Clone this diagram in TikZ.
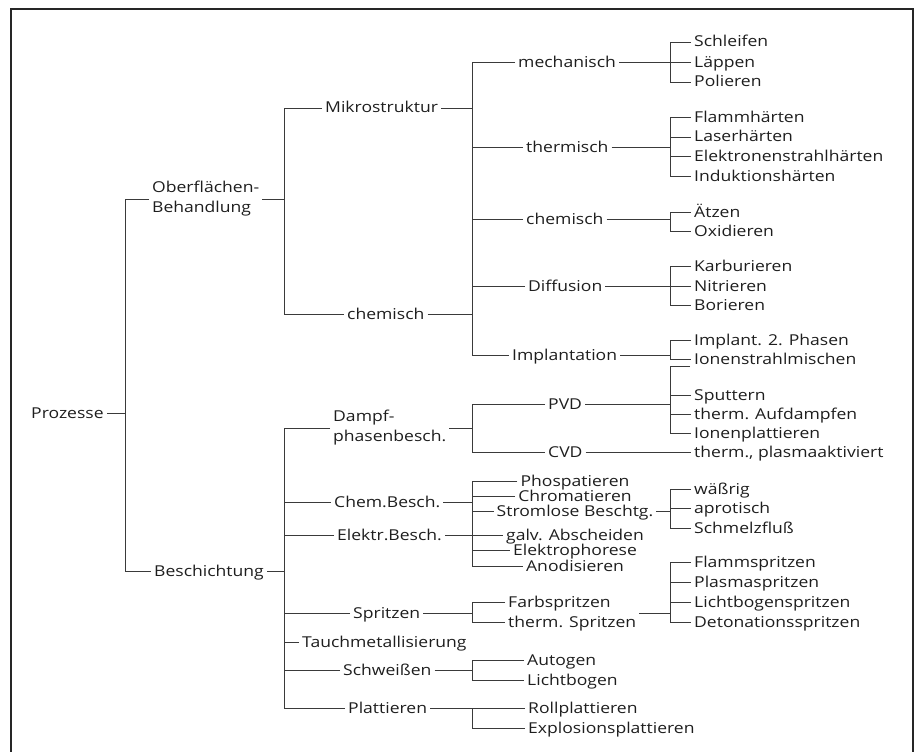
\documentclass[tikz,border=0pt]{standalone}
\usepackage{fontspec}
\setmainfont{Open Sans}[FakeStretch=1.17]
\newcommand\fsz{\fontsize{15}{20}\selectfont}
\definecolor{txtc}{HTML}{1E1E1E}
\definecolor{linec}{HTML}{3A3A3A}
\definecolor{framec}{HTML}{262626}
\tikzset{
  lbl/.style={anchor=west, inner xsep=3pt, inner ysep=0pt, text height=13pt, text depth=3pt, font=\fsz, text=txtc},
  lbltwo/.style={anchor=west, inner xsep=3pt, inner ysep=0pt, align=left, font=\fsz, text=txtc},
  ctr/.style={lbl, anchor=center},
  conn/.style={draw=linec, line width=0.8pt},
  framebox/.style={draw=framec, line width=1.4pt}
}
\begin{document}
\begin{tikzpicture}[x=1pt,y=-1pt]
\useasboundingbox (0,0) rectangle (919,752);
\draw[framebox] (11,752) -- (11,9) -- (913,9) -- (913,752);
% bracket columns
\coordinate (xa) at (125,0);
\coordinate (xb) at (284,0);
\coordinate (xc) at (472,0);
\coordinate (xd) at (670,0);
% level 0/1
\node[lbl] (pr) at (28,413) {Prozesse};
\node[lbltwo] (ob) at (149,199) {Oberflächen-\\Behandlung};
\node[lbl] (be) at (151,571) {Beschichtung};
% Oberflaechen subtree
\node[lbl] (mi) at (322,108) {Mikrostruktur};
\node[lbl] (chb) at (344,314) {chemisch};
\node[lbl] (me) at (515,62) {mechanisch};
\node[lbl] (th) at (523,147) {thermisch};
\node[lbl] (cm) at (523,219) {chemisch};
\node[lbl] (di) at (525,286) {Diffusion};
\node[lbl] (im) at (509,355) {Implantation};
% leaves
\node[lbl] (s1) at (691,42) {Schleifen};
\node[lbl] (s2) at (691,62) {Läppen};
\node[lbl] (s3) at (691,82) {Polieren};
\node[lbl] (t1) at (691,117) {Flammhärten};
\node[lbl] (t2) at (691,137) {Laserhärten};
\node[lbl] (t3) at (691,156) {Elektronenstrahlhärten};
\node[lbl] (t4) at (691,176) {Induktionshärten};
\node[lbl] (c1) at (691,212) {Ätzen};
\node[lbl] (c2) at (691,231) {Oxidieren};
\node[lbl] (d1) at (691,266) {Karburieren};
\node[lbl] (d2) at (691,286) {Nitrieren};
\node[lbl] (d3) at (691,305) {Borieren};
\node[lbl] (i1) at (691,340) {Implant. 2. Phasen};
\node[lbl] (i2) at (691,359) {Ionenstrahlmischen};
\coordinate (pvtop) at (690,366);
\node[lbl] (p1) at (691,395) {Sputtern};
\node[lbl] (p2) at (691,414) {therm. Aufdampfen};
\node[lbl] (p3) at (691,433) {Ionenplattieren};
\node[lbl] (cv1) at (691,452) {therm., plasmaaktiviert};
\node[lbl] (w1) at (691,489) {wäßrig};
\node[lbl] (w2) at (691,508) {aprotisch};
\node[lbl] (w3) at (691,528) {Schmelzfluß};
\node[lbl] (f1) at (691,562) {Flammspritzen};
\node[lbl] (f2) at (691,582) {Plasmaspritzen};
\node[lbl] (f3) at (691,602) {Lichtbogenspritzen};
\node[lbl] (f4) at (691,622) {Detonationsspritzen};
% Beschichtung subtree
\node[lbltwo] (dp) at (330,428) {Dampf-\\phasenbesch.};
\node[lbl] (cb) at (331,502) {Chem.Besch.};
\node[lbl] (eb) at (334,535) {Elektr.Besch.};
\node[lbl] (sp) at (350,613) {Spritzen};
\node[lbl] (ta) at (299,642) {Tauchmetallisierung};
\node[lbl] (sw) at (340,670) {Schweißen};
\node[lbl] (pl) at (345,708) {Plattieren};
\node[lbl] (pvd) at (545,404) {PVD};
\node[lbl] (cvd) at (545,452) {CVD};
\node[ctr] (g1) at (575,481) {Phospatieren};
\node[ctr] (g2) at (575,496) {Chromatieren};
\node[ctr] (g3) at (575,511) {Stromlose Beschtg.};
\node[ctr] (g4) at (575,535) {galv. Abscheiden};
\node[ctr] (g5) at (575,550) {Elektrophorese};
\node[ctr] (g6) at (575,566) {Anodisieren};
\node[lbl] (fb1) at (505,602) {Farbspritzen};
\node[lbl] (fb2) at (505,622) {therm. Spritzen};
\node[lbl] (a1) at (524,660) {Autogen};
\node[lbl] (a2) at (524,680) {Lichtbogen};
\node[lbl] (r1) at (525,708) {Rollplattieren};
\node[lbl] (r2) at (525,728) {Explosionsplattieren};
% connectors: level 0
\draw[conn] (pr.east) -- (pr.east -| xa);
\draw[conn] (ob.west) -- (ob.west -| xa) -- (be.west -| xa) -- (be.west);
% Oberflaechen
\draw[conn] (ob.east) -- (ob.east -| xb);
\draw[conn] (mi.west) -- (mi.west -| xb) -- (chb.west -| xb) -- (chb.west);
\draw[conn] (mi.east) -- (mi.east -| xc);
\draw[conn] (chb.east) -- (chb.east -| xc);
\draw[conn] (me.west) -- (me.west -| xc) -- (im.west -| xc) -- (im.west);
\foreach \n in {th,cm,di} \draw[conn] (\n.west) -- (\n.west -| xc);
\draw[conn] (me.east) -- (me.east -| xd);
\draw[conn] (s1.west) -- (s1.west -| xd) -- (s3.west -| xd) -- (s3.west);
\draw[conn] (s2.west) -- (s2.west -| xd);
\draw[conn] (th.east) -- (th.east -| xd);
\draw[conn] (t1.west) -- (t1.west -| xd) -- (t4.west -| xd) -- (t4.west);
\foreach \n in {t2,t3} \draw[conn] (\n.west) -- (\n.west -| xd);
\draw[conn] (cm.east) -- (cm.east -| xd);
\draw[conn] (c1.west) -- (c1.west -| xd) -- (c2.west -| xd) -- (c2.west);
\draw[conn] (di.east) -- (di.east -| xd);
\draw[conn] (d1.west) -- (d1.west -| xd) -- (d3.west -| xd) -- (d3.west);
\draw[conn] (d2.west) -- (d2.west -| xd);
\draw[conn] (im.east) -- (im.east -| xd);
\draw[conn] (i1.west) -- (i1.west -| xd) -- (i2.west -| xd) -- (i2.west);
% Beschichtung
\draw[conn] (be.east) -- (be.east -| xb);
\draw[conn] (dp.west) -- (dp.west -| xb) -- (pl.west -| xb) -- (pl.west);
\foreach \n in {cb,eb,sp,ta,sw} \draw[conn] (\n.west) -- (\n.west -| xb);
\draw[conn] (dp.east) -- (dp.east -| xc);
\draw[conn] (pvd.west) -- (pvd.west -| xc) -- (cvd.west -| xc) -- (cvd.west);
\draw[conn] (pvd.east) -- (pvd.east -| xd);
\draw[conn] (pvtop) -- (pvtop -| xd) -- (p3.west -| xd) -- (p3.west);
\foreach \n in {p1,p2} \draw[conn] (\n.west) -- (\n.west -| xd);
\draw[conn] (cvd.east) -- (cv1.west);
\draw[conn] (cb.east) -- (cb.east -| xc);
\draw[conn] (g1.west) -- (g1.west -| xc) -- (g6.west -| xc) -- (g6.west);
\foreach \n in {g2,g3,g5} \draw[conn] (\n.west) -- (\n.west -| xc);
\draw[conn] (eb.east) -- (g4.west);
\draw[conn] (g3.east) -- (g3.east -| xd);
\draw[conn] (w1.west) -- (w1.west -| xd) -- (w3.west -| xd) -- (w3.west);
\draw[conn] (w2.west) -- (w2.west -| xd);
\draw[conn] (sp.east) -- (sp.east -| xc);
\draw[conn] (fb1.west) -- (fb1.west -| xc) -- (fb2.west -| xc) -- (fb2.west);
\draw[conn] (fb2.east |- sp.east) -- (sp.east -| xd);
\draw[conn] (f1.west) -- (f1.west -| xd) -- (f4.west -| xd) -- (f4.west);
\foreach \n in {f2,f3} \draw[conn] (\n.west) -- (\n.west -| xd);
\draw[conn] (sw.east) -- (sw.east -| xc);
\draw[conn] (a1.west) -- (a1.west -| xc) -- (a2.west -| xc) -- (a2.west);
\draw[conn] (pl.east) -- (r1.west);
\draw[conn] (r1.west -| xc) -- (r2.west -| xc) -- (r2.west);
\end{tikzpicture}
\end{document}
